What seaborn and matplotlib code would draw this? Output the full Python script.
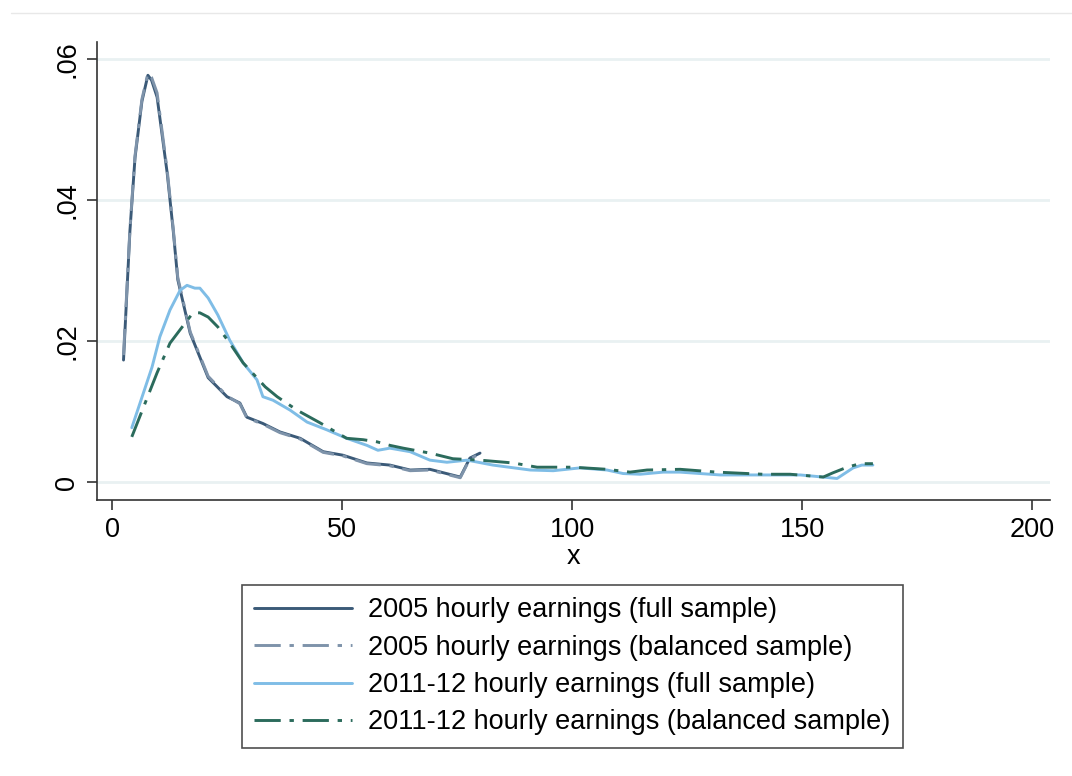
import numpy as np
import pandas as pd
import matplotlib
matplotlib.use("Agg")
import matplotlib.pyplot as plt
from matplotlib.lines import Line2D
import seaborn as sns

labels = ["2005 hourly earnings (full sample)",
          "2005 hourly earnings (balanced sample)",
          "2011-12 hourly earnings (full sample)",
          "2011-12 hourly earnings (balanced sample)"]

x05 = [2.5, 3.9, 5.0, 6.5, 7.8, 8.6, 9.8, 12.0, 13.3, 14.3, 17.0, 20.9, 25.0, 27.8, 29.3,
       32.8, 36.5, 40.9, 45.9, 50.2, 55.4, 60.4, 64.8, 69.1, 75.7, 77.8, 80.0]
y05_full = [0.0173, 0.0357, 0.0460, 0.0540, 0.0577, 0.0570, 0.0546, 0.0438, 0.0357, 0.0287,
            0.0211, 0.0148, 0.0121, 0.0112, 0.0092, 0.0083, 0.0071, 0.0062, 0.0043, 0.0038,
            0.0027, 0.0024, 0.0017, 0.0018, 0.0007, 0.0034, 0.0041]
y05_bal = [0.0180, 0.0360, 0.0463, 0.0543, 0.0580, 0.0574, 0.0552, 0.0442, 0.0360, 0.0290,
           0.0213, 0.0150, 0.0122, 0.0111, 0.0091, 0.0082, 0.0070, 0.0061, 0.0042, 0.0037,
           0.0026, 0.0023, 0.0016, 0.0017, 0.0006, 0.0033, 0.0040]

x11_full = [4.3, 8.7, 10.4, 12.6, 14.8, 16.3, 18.0, 19.1, 20.9, 23.0, 25.6, 28.5, 31.5, 32.8,
            35.0, 38.7, 42.4, 46.7, 51.0, 55.4, 57.8, 60.4, 64.8, 69.1, 72.8, 77.2, 82.8,
            90.9, 95.9, 101.7, 107.6, 111.1, 114.8, 119.8, 123.5, 132.2, 149.6, 154.6,
            157.6, 161.1, 163.0, 165.4]
y11_full = [0.0077, 0.0163, 0.0206, 0.0244, 0.0272, 0.0279, 0.0275, 0.0275, 0.0261, 0.0237,
            0.0201, 0.0169, 0.0145, 0.0121, 0.0116, 0.0102, 0.0085, 0.0074, 0.0062, 0.0052,
            0.0045, 0.0048, 0.0043, 0.0031, 0.0028, 0.0031, 0.0024, 0.0017, 0.0016, 0.0020,
            0.0017, 0.0012, 0.0011, 0.0014, 0.0014, 0.0010, 0.0010, 0.0007, 0.0005, 0.0020,
            0.0024, 0.0024]

x11_bal = [4.3, 7.2, 9.8, 12.6, 14.8, 17.6, 19.1, 20.9, 23.0, 25.6, 28.5, 33.3, 35.9, 40.2,
           45.2, 51.0, 54.6, 57.6, 60.4, 63.3, 69.1, 74.1, 80.0, 87.2, 92.4, 100.2, 107.6,
           112.6, 116.3, 123.5, 131.5, 141.5, 147.4, 154.6, 156.7, 159.8, 162.6, 165.4]
y11_bal = [0.0064, 0.0112, 0.0155, 0.0197, 0.0216, 0.0240, 0.0240, 0.0234, 0.0220, 0.0197,
           0.0169, 0.0135, 0.0121, 0.0102, 0.0084, 0.0062, 0.0060, 0.0057, 0.0052, 0.0048,
           0.0041, 0.0033, 0.0031, 0.0027, 0.0021, 0.0021, 0.0018, 0.0014, 0.0017, 0.0018,
           0.0014, 0.0011, 0.0011, 0.0007, 0.0013, 0.0021, 0.0026, 0.0026]

colors = ["#3b5a78", "#7e93aa", "#7fbde6", "#2b6b5c"]
dd = (9, 3, 1.5, 3)
dashes_map = {labels[0]: "", labels[1]: dd, labels[2]: "", labels[3]: dd}

frames = []
for lab, xs, ys in [(labels[0], x05, y05_full), (labels[1], x05, y05_bal),
                    (labels[2], x11_full, y11_full), (labels[3], x11_bal, y11_bal)]:
    frames.append(pd.DataFrame({"x": xs, "y": ys, "series": lab}))
df = pd.concat(frames, ignore_index=True)

sns.set_theme(style="white")
plt.rcParams["font.family"] = ["Liberation Sans", "DejaVu Sans"]
plt.rcParams["text.color"] = "black"
plt.rcParams["axes.labelcolor"] = "black"

fig = plt.figure(figsize=(10.72, 7.76), dpi=100)
ax = fig.add_axes([0.0905, 0.3557, 0.889, 0.590])

for y in [0, 0.02, 0.04, 0.06]:
    ax.axhline(y, color="#e9f1f2", lw=2, zorder=0)

sns.lineplot(data=df, x="x", y="y", hue="series", style="series",
             hue_order=labels, style_order=labels,
             palette=dict(zip(labels, colors)), dashes=dashes_map,
             lw=2.1, ax=ax, legend=False, sort=False, estimator=None)

FS = 19.5
ax.set_xlim(-3.26, 203.9)
ax.set_ylim(-0.00255, 0.0624)
ax.set_xticks([0, 50, 100, 150, 200])
ax.set_xticklabels(["0", "50", "100", "150", "200"])
ax.set_yticks([0, 0.02, 0.04, 0.06])
ax.set_yticklabels(["0", ".02", ".04", ".06"], rotation=90, va="center")
ax.tick_params(axis="both", direction="out", length=7, width=1.2, color="#333333",
               labelsize=FS, labelcolor="black", bottom=True, left=True, pad=5)
ax.set_xlabel("x", fontsize=FS, labelpad=1, color="black")
ax.set_ylabel("")
for s in ["top", "right"]:
    ax.spines[s].set_visible(False)
for s in ["left", "bottom"]:
    ax.spines[s].set_color("#333333")
    ax.spines[s].set_linewidth(1.2)

handles = []
for i in range(4):
    h = Line2D([], [], color=colors[i], lw=2.1)
    if dashes_map[labels[i]]:
        h.set_dashes(dashes_map[labels[i]])
    handles.append(h)
leg = fig.legend(handles, labels, loc="upper center", bbox_to_anchor=(0.534, 0.246),
                 fontsize=FS, frameon=True, fancybox=False, edgecolor="#222222",
                 handlelength=3.6, handletextpad=0.6, labelspacing=0.42,
                 borderpad=0.45, borderaxespad=0, labelcolor="black")
leg.get_frame().set_linewidth(1.2)

fig.add_artist(Line2D([0.01, 1.0], [1 - 13 / 776, 1 - 13 / 776], color="#e8e8e8", lw=1,
                      transform=fig.transFigure))

fig.savefig("out.png", dpi=100, facecolor="white")
